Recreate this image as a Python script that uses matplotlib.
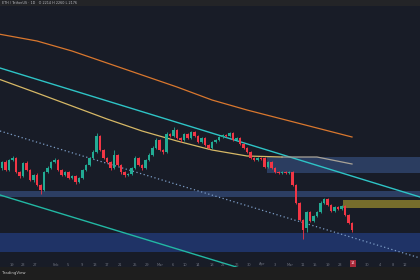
import matplotlib
matplotlib.use("Agg")
import matplotlib.pyplot as plt
from matplotlib.patches import Rectangle
import numpy as np

# ---- candle data (price units) ----
opens = [94,100,92,102,104,90,86,99,92,82,87,77,72,90,94,100,102,92,87,90,84,86,80,84,92,97,104,110,126,112,
         104,100,94,107,97,90,87,88,94,104,97,94,102,107,114,122,112,110,128,126,132,124,122,128,124,130,126,120,124,117,
         114,120,122,125,127,126,129,122,124,118,114,110,104,102,104,104,95,100,94,90,89,90,89,90,77,59,42,34,50,41,
         46,50,59,63,57,51,55,53,56,47,39]
closes = [100,92,102,104,90,86,99,92,82,87,77,72,90,94,100,102,92,87,90,84,86,80,84,92,97,104,110,126,112,104,
          100,94,107,97,90,87,88,94,104,97,94,102,107,114,122,112,110,128,126,132,124,122,128,124,130,126,120,124,117,114,
          120,122,125,127,126,129,122,124,118,114,110,104,102,104,103,95,100,94,90,89,90,89,90,77,59,42,32,50,41,46,
          50,59,63,57,51,55,53,56,47,39,32]
highs = [101,102,103,106,105,91,100,101,93,88,89,78,91,96,101,104,103,93,91,91,87,87,85,93,98,105,112,129,127,113,
         105,101,112,108,98,91,89,95,106,105,98,103,109,116,124,123,113,130,129,135,133,125,129,129,131,131,127,125,125,118,
         121,123,126,128,128,130,130,125,125,119,115,111,105,105,105,105,101,101,95,91,91,91,91,91,78,60,43,51,51,47,
         51,61,64,64,58,56,56,57,57,48,40]
lows = [92,91,91,101,89,84,85,91,81,80,76,68,71,89,93,99,91,86,86,83,83,78,79,83,91,96,103,109,111,103,
        99,92,93,96,88,85,86,87,93,96,92,93,101,106,113,111,108,109,125,125,123,120,121,123,123,125,119,119,116,113,
        113,119,121,124,125,125,121,121,117,113,109,103,101,101,102,94,94,93,89,88,88,88,88,76,58,41,23,30,40,40,
        45,49,58,56,50,50,52,52,46,38,30]

# moving averages (anchor candles and values)
ma_slow_idx = [-1, 10, 20, 30, 40, 50, 60, 70, 80, 90, 100]
ma_slow_val = [228, 221, 211, 199, 187, 175, 162, 152, 143, 134, 125]
ma_mid_idx = [-1, 10, 20, 30, 40, 50, 60, 70, 80, 90, 100]
ma_mid_val = [183, 169, 156, 143, 131, 121, 112, 106, 105, 105, 98]

# trend lines (start/end price)
upper_channel = (194, 65)
lower_channel = (67, -61)
dotted_line = (131, 4)

# zones: (start idx, price bottom, price top)
zone_supply = (75.7, 89, 105)
zone_band = (None, 65, 71)
zone_demand = (None, 10, 29)
zone_yellow = (97.4, 54, 62)

tick_labels = ["19", "23", "27", "Feb", "5", "9", "13", "17", "21", "25", "29", "Mar", "6", "10", "14",
               "18", "22", "26", "30", "Apr", "3", "Mar", "11", "15", "19", "23", "30", "4", "8", "12"]
tick_px = [12, 23, 35, 56, 68, 82, 95, 107, 120, 135, 147, 160, 173, 185, 198, 212, 223, 237, 249, 262,
           275, 290, 303, 315, 328, 340, 367, 380, 393, 405]

BG = "#181c27"
UP = "#22ab94"
DN = "#f23645"

fig = plt.figure(figsize=(4.2, 2.8), dpi=100)
fig.patch.set_facecolor("#1e1e1e")
fig.add_artist(Rectangle((0, 1 - 6 / 280), 1, 6 / 280, transform=fig.transFigure,
                         facecolor="#232427", edgecolor="none"))
ax = fig.add_axes([0, 13 / 280, 1, 261 / 280])
ax.set_facecolor(BG)
x0, x1 = -2 / 3.5, 418 / 3.5
ax.set_xlim(x0, x1)
ax.set_ylim(-5, 256)
ax.axis("off")
ax.add_patch(Rectangle((0, 0), 1, 1, transform=ax.transAxes, facecolor=BG, edgecolor="none", zorder=0))

def zone(z, color):
    start = x0 if z[0] is None else z[0]
    ax.add_patch(Rectangle((start, z[1]), x1 - start, z[2] - z[1], facecolor=color,
                           edgecolor="none", zorder=1))

zone(zone_supply, "#2b3d60")
zone(zone_band, "#2c3e63")
zone(zone_demand, "#1f3366")
zone(zone_yellow, "#766d2c")

# trend lines
ax.plot([x0, x1], upper_channel, color="#2ec4c6", lw=1.0, zorder=3)
ax.plot([x0, x1], lower_channel, color="#22b8a4", lw=1.0, zorder=3)
ax.plot([x0, x1], dotted_line, color="#7c9cc6", lw=0.9, ls=(0, (1, 2)), zorder=3)

# moving averages
ax.plot(ma_slow_idx, ma_slow_val, color="#d9772e", lw=0.9, zorder=3)
ax.plot(ma_mid_idx[:9], ma_mid_val[:9], color="#d6b866", lw=0.9, zorder=3)
ax.plot(ma_mid_idx[8:], ma_mid_val[8:], color="#a9a397", lw=0.9, zorder=3)

# candles
idx = np.arange(len(opens))
o = np.array(opens); c = np.array(closes)
cols = [UP if cc >= oo else DN for oo, cc in zip(o, c)]
ax.vlines(idx, lows, highs, colors=cols, lw=0.6, zorder=4)
body = np.maximum(np.abs(c - o), 0.8)
ax.bar(idx, body, bottom=np.minimum(o, c), width=0.62, color=cols, zorder=5, linewidth=0)

# x-axis labels
for px, lab in zip(tick_px, tick_labels):
    ax.text((px - 2) / 3.5, -2.5, lab, color="#6c707c", fontsize=2.6, ha="center", va="center", zorder=6)
ax.text((353 - 2) / 3.5, -1.5, "14", color="#f5c6cc", fontsize=2.6, ha="center", va="center", zorder=7,
        bbox=dict(boxstyle="square,pad=0.3", facecolor="#a8293a", edgecolor="none"))

# header / footer text
fig.text(0.004, 1 - 3 / 280, "ETH / TetherUS · 1D   O 2214 H 2260 L 2176",
         color="#b8bac0", fontsize=2.4, va="center", ha="left")
fig.text(0.004, 7 / 280, "TradingView", color="#c8c8c8", fontsize=2.8, va="center", ha="left")

fig.savefig("out.png", dpi=100, facecolor=fig.get_facecolor())
